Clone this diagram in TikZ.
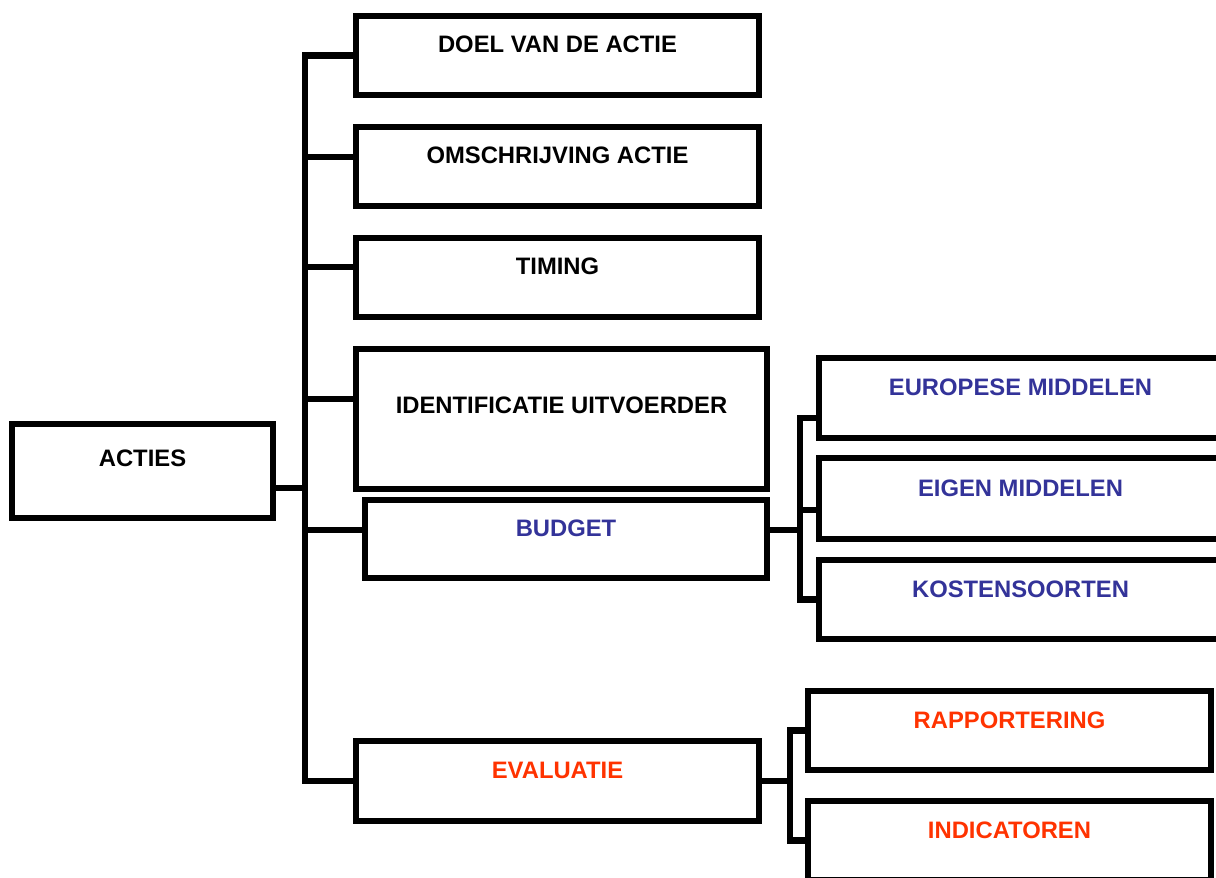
\documentclass[tikz,border=0pt]{standalone}
\usepackage{fontspec}
\setmainfont{Liberation Sans}

\definecolor{budgetblue}{RGB}{51,51,153}
\definecolor{evalred}{RGB}{255,51,0}

\tikzset{every picture/.style={line width=6pt}}
\tikzset{
	box/.style={draw, line width=6pt, inner sep=0pt, minimum width=403pt,
		font=\fontsize{23.8}{28}\selectfont\bfseries, text height=36pt, text depth=43pt},
	link/.style={line width=6.5pt}}

\begin{document}
\begin{tikzpicture}[x=1pt,y=1pt,yscale=-1,xscale=1]
	\useasboundingbox (0,0) rectangle (1216,878);
	\clip (0,0) rectangle (1216,878);

	%Shape: Rectangle (root)
	\node [box, minimum width=261pt, text height=42pt, text depth=52pt] (acties) at (142.5,471) {ACTIES};

	%Shape: Rectangle (first level)
	\node [box] (doel) at (557.5,55.5) {DOEL VAN DE ACTIE};
	\node [box] (omschr) at (557.5,166.5) {OMSCHRIJVING ACTIE};
	\node [box] (timing) at (557.5,277.5) {TIMING};
	\node [box, minimum width=411pt, text height=64pt, text depth=76pt] (ident) at (561.5,419) {IDENTIFICATIE UITVOERDER};
	\node [box, minimum width=402pt, text depth=42pt, text=budgetblue] (budget) at (566,539) {BUDGET};
	\node [box, text height=37pt, text=evalred] (eval) at (557.5,781) {EVALUATIE};

	%Shape: Rectangle (budget)
	\node [box, text height=37pt, text=budgetblue] (europ) at (1020.5,398) {EUROPESE MIDDELEN};
	\node [box, text height=38pt, text=budgetblue] (eigen) at (1020.5,498.5) {EIGEN MIDDELEN};
	\node [box, text height=37pt, text depth=42pt, text=budgetblue] (kosten) at (1020.5,599.5) {KOSTENSOORTEN};

	%Shape: Rectangle (evaluatie)
	\node [box, text height=37pt, text depth=42pt, text=evalred] (rapport) at (1009.5,730.5) {RAPPORTERING};
	\node [box, text height=37pt, text depth=42pt, text=evalred] (indic) at (1009.5,840.5) {INDICATOREN};

	% forks
	\coordinate (trunk) at (305,488);
	\coordinate (bfork) at (800,530);
	\coordinate (efork) at (790,781);

	%Connector: acties
	\draw [link] ([yshift=17pt]acties.east) -- (trunk);
	\draw [link] (doel.west) -| (trunk |- eval.west) -- (eval.west);
	\foreach \n/\s in {omschr/-9.5, timing/-10.5, ident/-20, budget/-9}
		\draw [link] ([yshift=\s pt]\n.west) -| (trunk);

	%Connector: budget
	\draw [link] ([yshift=-9pt]budget.east) -- (bfork);
	\draw [link] ([yshift=20pt]europ.west) -| (bfork |- kosten.west) -- (kosten.west);
	\draw [link] ([yshift=11.5pt]eigen.west) -| (bfork);

	%Connector: evaluatie
	\draw [link] (eval.east) -- (efork);
	\draw [link] (rapport.west) -| (efork |- indic.west) -- (indic.west);

\end{tikzpicture}
\end{document}
